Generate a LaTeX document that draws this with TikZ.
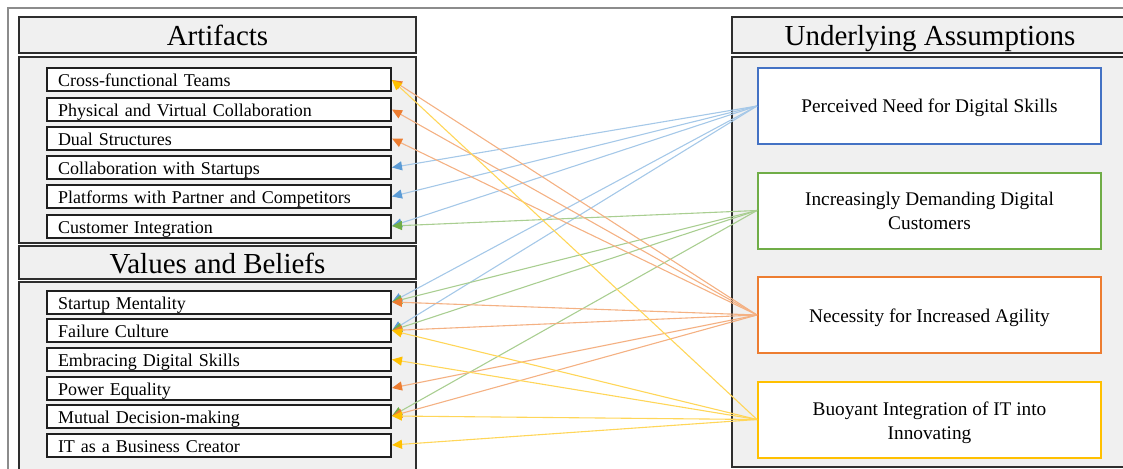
\documentclass[tikz,border=0pt]{standalone}
\usepackage{fontspec}
\setmainfont{Liberation Serif}
\usetikzlibrary{arrows.meta}

% Office-like palette
\definecolor{panelfill}{HTML}{F0F0F0}
\definecolor{paneledge}{HTML}{2E2E2E}
\definecolor{framegray}{HTML}{8C8C8C}
\definecolor{cblue}{HTML}{5B9BD5}
\definecolor{cblueedge}{HTML}{4472C4}
\definecolor{cgreen}{HTML}{70AD47}
\definecolor{corange}{HTML}{ED7D31}
\definecolor{cyellow}{HTML}{FFC000}

\tikzset{
  panel/.style={draw=paneledge, line width=1.8pt, fill=panelfill, inner sep=0pt},
  header/.style={panel, font=\fontsize{29}{32}\selectfont, text height=22pt, text depth=0pt},
  item/.style={draw=black!88, line width=2pt, fill=white, anchor=west,
    minimum height=23pt, inner xsep=11pt, inner ysep=0pt, text width=322pt,
    align=left, text height=14pt, text depth=0pt,
    font=\fontsize{18}{22}\selectfont},
  assume/.style={fill=white, line width=2pt, minimum width=343pt,
    minimum height=76pt, inner sep=0pt, align=center,
    font=\fontsize{19.3}{24}\selectfont},
  link/.style={line width=1.1pt},
  bluelink/.style={link, draw=cblue!55, -{Triangle[length=10pt,width=9pt,color=cblue]}},
  greenlink/.style={link, draw=cgreen!60, -{Triangle[length=10pt,width=9pt,color=cgreen]}},
  orangelink/.style={link, draw=corange!60, -{Triangle[length=10pt,width=9pt,color=corange]}},
  yellowlink/.style={link, draw=cyellow!65, -{Triangle[length=10pt,width=9pt,color=cyellow]}},
}

\begin{document}
\begin{tikzpicture}[x=1pt, y=-1pt]
\useasboundingbox (0,0) rectangle (1123,468);

% outer frame
\draw[framegray, line width=1.5pt] (8,8) rectangle (1150,490);

% left column: artifacts
\node[header, minimum width=397pt, minimum height=36pt] (hArt) at (217.5,35) {Artifacts};
\node[panel, minimum width=397pt, minimum height=186pt] (pArt) at (217.5,150) {};
% left column: values and beliefs
\node[header, minimum width=397pt, minimum height=33pt] (hVal) at (217.5,262.5) {Values and Beliefs};
\node[panel, minimum width=397pt, minimum height=190pt] (pVal) at (217.5,377) {};

% right column: underlying assumptions
\node[header, minimum width=396pt, minimum height=36pt] (hAsm) at (930,35) {Underlying Assumptions};
\node[panel, minimum width=396pt, minimum height=410pt] (pAsm) at (930,262) {};

% artifacts
\node[item] (a1) at (46,80)    {Cross-functional Teams};
\node[item] (a2) at (46,109.5) {Physical and Virtual Collaboration};
\node[item] (a3) at (46,138.5) {Dual Structures};
\node[item] (a4) at (46,167.5) {Collaboration with Startups};
\node[item] (a5) at (46,196.5) {Platforms with Partner and Competitors};
\node[item] (a6) at (46,226)   {Customer Integration};

% values and beliefs
\node[item] (v1) at (46,302)   {Startup Mentality};
\node[item] (v2) at (46,330.5) {Failure Culture};
\node[item] (v3) at (46,359.5) {Embracing Digital Skills};
\node[item] (v4) at (46,388)   {Power Equality};
\node[item] (v5) at (46,416)   {Mutual Decision-making};
\node[item] (v6) at (46,445)   {IT as a Business Creator};

% assumptions (two-line boxes: baseline sits on the last line)
\node[assume, draw=cblueedge, text height=14pt, text depth=0pt] (s1) at (929.5,106) {Perceived Need for Digital Skills};
\node[assume, draw=cgreen, text height=37pt, text depth=0pt] (s2) at (929.5,210.5) {Increasingly Demanding Digital\\Customers};
\node[assume, draw=corange, text height=14pt, text depth=0pt] (s3) at (929.5,315) {Necessity for Increased Agility};
\node[assume, draw=cyellow, text height=39pt, text depth=0pt] (s4) at (929.5,419.5) {Buoyant Integration of IT into\\Innovating};

% links from assumptions to artifacts and values
\foreach \t in {a4,a5,a6,v1,v2} \draw[bluelink] (s1.west) -- (\t.east);
\foreach \t in {a6,v1,v2,v5} \draw[greenlink] (s2.west) -- (\t.east);
\foreach \t in {a1,a2,a3,v1,v2,v4,v5} \draw[orangelink] (s3.west) -- (\t.east);
\foreach \t in {a1,v2,v3,v5,v6} \draw[yellowlink] (s4.west) -- (\t.east);
\end{tikzpicture}
\end{document}
